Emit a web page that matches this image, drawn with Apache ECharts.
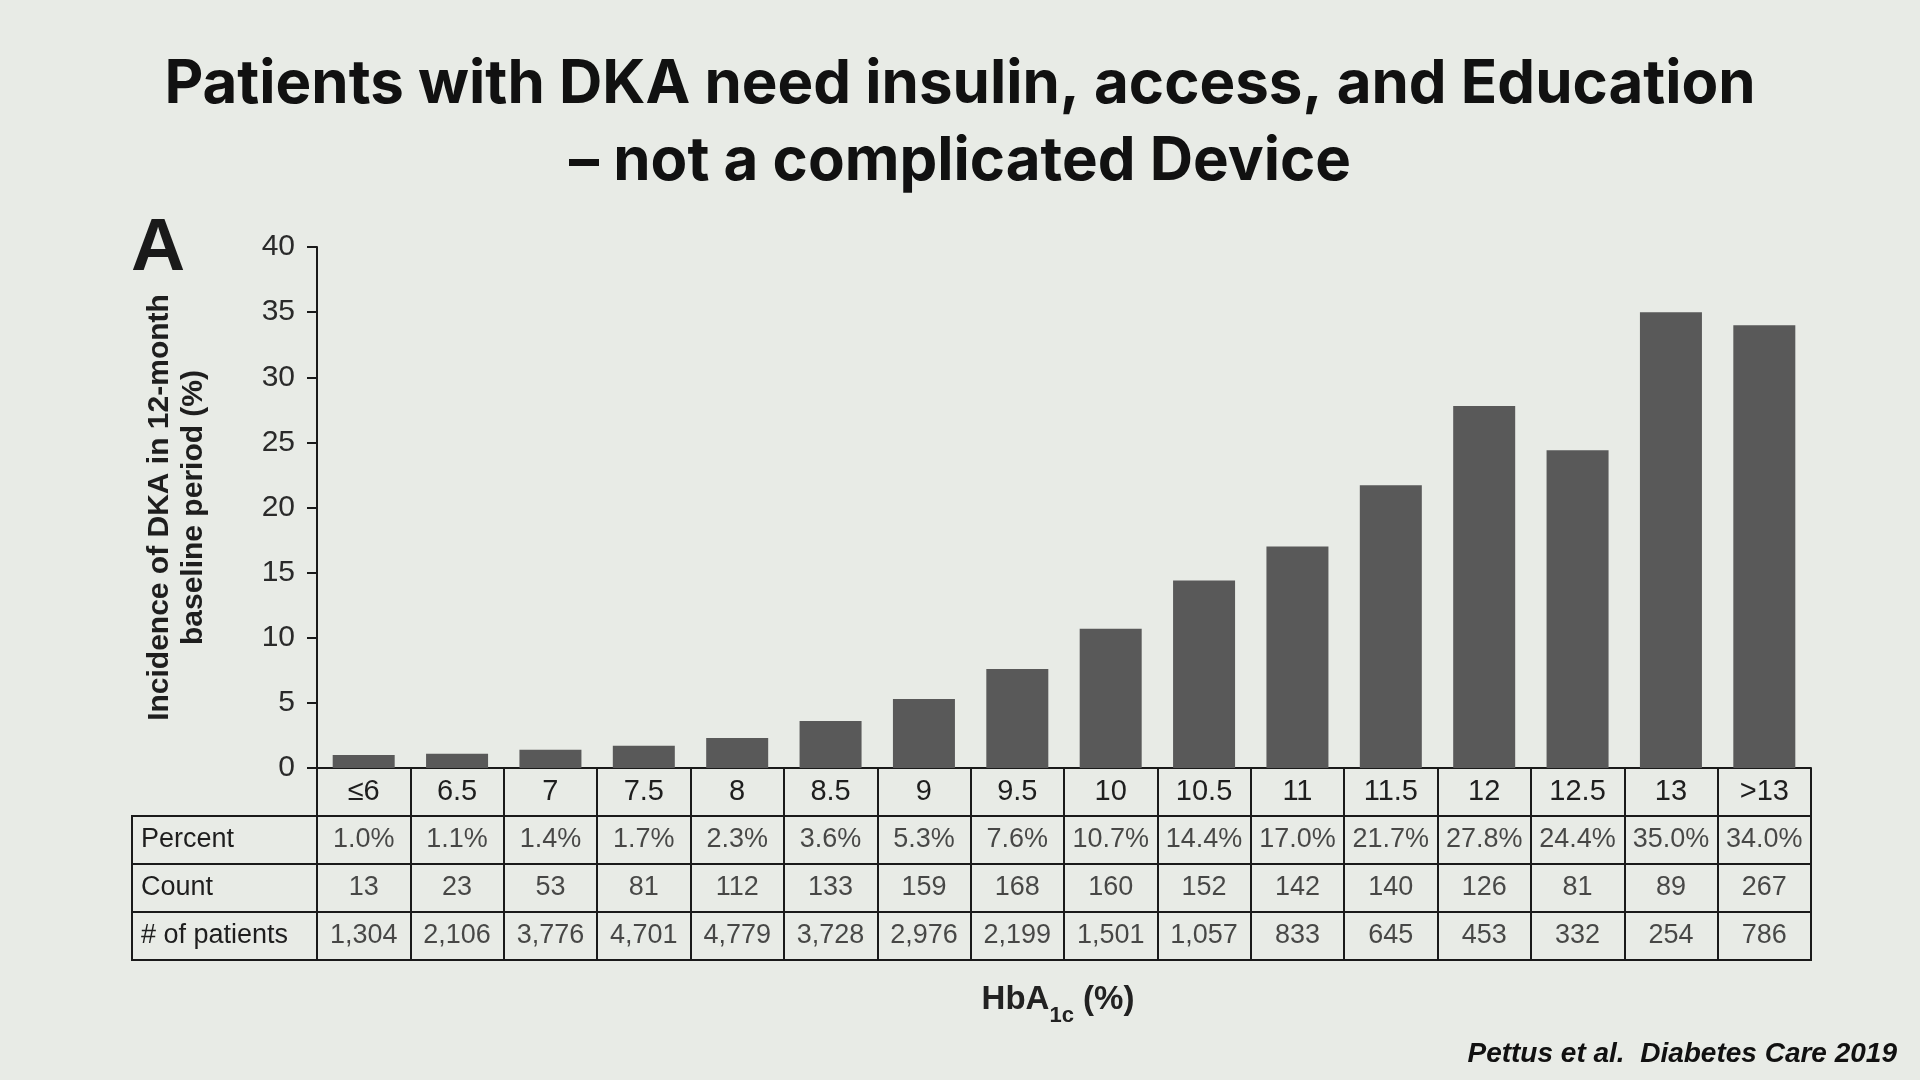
<!DOCTYPE html>
<html>
<head>
<meta charset="utf-8">
<title>DKA incidence by HbA1c</title>
<script src="https://cdn.jsdelivr.net/npm/echarts@6/dist/echarts.min.js"></script>
<style>
  html, body { margin: 0; padding: 0; background: #e8ebe6; }
  #chart { width: 1920px; height: 1080px; }
</style>
</head>
<body>
<div id="chart"></div>
<script>
// HbA1c bins and the values
const categories = ['≤6', '6.5', '7', '7.5', '8', '8.5', '9', '9.5', '10', '10.5', '11', '11.5', '12', '12.5', '13', '>13'];
const incidence = [1.0, 1.1, 1.4, 1.7, 2.3, 3.6, 5.3, 7.6, 10.7, 14.4, 17.0, 21.7, 27.8, 24.4, 35.0, 34.0];
const counts = [13, 23, 53, 81, 112, 133, 159, 168, 160, 152, 142, 140, 126, 81, 89, 267];
const patients = [1304, 2106, 3776, 4701, 4779, 3728, 2976, 2199, 1501, 1057, 833, 645, 453, 332, 254, 786];
const rowNames = ['Percent', 'Count', '# of patients'];
const yTicks = [0, 5, 10, 15, 20, 25, 30, 35, 40];

const LINE = '#1a1a1a';
const TEXT = '#1e1e1e';
const FONT = "'Liberation Sans', Arial, sans-serif";

// table cells: one entry per (column, row)
const rowTexts = [
  incidence.map(v => v.toFixed(1) + '%'),
  counts.map(v => String(v)),
  patients.map(v => v.toLocaleString('en-US'))
];
const cells = [];
rowNames.forEach((row, r) => {
  categories.forEach((c, i) => {
    cells.push([c, row, rowTexts[r][i]]);
  });
});

const chart = echarts.init(document.getElementById('chart'));

chart.setOption({
  backgroundColor: '#e8ebe6',
  textStyle: { fontFamily: FONT },
  title: {
    text: 'Patients with DKA need insulin, access, and Education\n– not a complicated Device',
    left: 'center',
    top: 41,
    textStyle: {
      fontFamily: 'Inter, "Open Sans", sans-serif',
      fontWeight: 'bold',
      fontSize: 60,
      lineHeight: 77,
      color: '#111'
    }
  },
  grid: [
    { left: 317, right: 109, top: 247, height: 521 },
    { left: 317, right: 109, top: 816, height: 144, show: true, borderColor: LINE, borderWidth: 2 },
    { left: 132, width: 185, top: 816, height: 144, show: true, borderColor: LINE, borderWidth: 2 }
  ],
  xAxis: [
    {
      gridIndex: 0,
      type: 'category',
      data: categories,
      axisLine: { lineStyle: { color: LINE, width: 2 } },
      axisTick: { show: true, length: 48, interval: 0, lineStyle: { color: LINE, width: 2 } },
      axisLabel: { interval: 0, margin: 9, fontSize: 29, color: TEXT, fontFamily: FONT }
    },
    {
      gridIndex: 1,
      type: 'category',
      data: categories,
      axisLine: { show: false },
      axisTick: { show: false },
      axisLabel: { show: false },
      splitLine: { show: true, interval: 0, lineStyle: { color: LINE, width: 2 } }
    },
    {
      gridIndex: 2,
      type: 'category',
      data: [''],
      axisLine: { show: false },
      axisTick: { show: false },
      axisLabel: { show: false }
    }
  ],
  yAxis: [
    {
      gridIndex: 0,
      type: 'value',
      min: yTicks[0],
      max: yTicks[yTicks.length - 1],
      interval: 5,
      name: 'Incidence of DKA in 12-month\nbaseline period (%)',
      nameLocation: 'middle',
      nameGap: 106,
      nameTextStyle: { fontSize: 30, fontWeight: 'bold', lineHeight: 34, color: TEXT, fontFamily: FONT },
      axisLine: { show: true, lineStyle: { color: LINE, width: 2 } },
      axisTick: { show: true, length: 10, lineStyle: { color: LINE, width: 2 } },
      axisLabel: { margin: 22, fontSize: 30, color: '#2a2a2a', fontFamily: FONT },
      splitLine: { show: false }
    },
    {
      gridIndex: 1,
      type: 'category',
      data: rowNames,
      inverse: true,
      axisLine: { show: false },
      axisTick: { show: false },
      axisLabel: { show: false },
      splitLine: { show: true, interval: 0, lineStyle: { color: LINE, width: 2 } }
    },
    {
      gridIndex: 2,
      type: 'category',
      data: rowNames,
      inverse: true,
      axisLine: { show: false },
      axisTick: { show: false },
      axisLabel: { inside: true, margin: 9, fontSize: 27, color: TEXT, fontFamily: FONT },
      splitLine: { show: true, interval: 0, lineStyle: { color: LINE, width: 2 } }
    }
  ],
  graphic: [
    {
      type: 'text',
      x: 158, y: 249,
      style: { text: 'A', font: 'bold 75px "Liberation Sans", Arial, sans-serif', fill: '#1a1a1a', align: 'center', verticalAlign: 'middle' }
    },
    {
      type: 'text',
      x: 1058, y: 1000,
      style: {
        text: '{a|HbA}{s|1c}{a| (%)}',
        align: 'center',
        verticalAlign: 'middle',
        rich: {
          a: { font: 'bold 33px "Liberation Sans", Arial, sans-serif', fill: '#222', lineHeight: 54, verticalAlign: 'middle' },
          s: { font: 'bold 22px "Liberation Sans", Arial, sans-serif', fill: '#222', lineHeight: 22, verticalAlign: 'bottom' }
        }
      }
    },
    {
      type: 'text',
      x: 1897, y: 1054,
      style: { text: 'Pettus et al.  Diabetes Care 2019', font: 'italic bold 28px "Liberation Sans", Arial, sans-serif', fill: '#111', align: 'right', verticalAlign: 'middle' }
    }
  ],
  series: [
    {
      type: 'bar',
      xAxisIndex: 0,
      yAxisIndex: 0,
      data: incidence,
      barWidth: 62,
      itemStyle: { color: '#595959' },
      silent: true
    },
    {
      type: 'scatter',
      xAxisIndex: 1,
      yAxisIndex: 1,
      data: cells,
      symbolSize: 2,
      itemStyle: { color: 'rgba(0,0,0,0)' },
      silent: true,
      label: {
        show: true,
        position: 'inside',
        formatter: p => p.value[2],
        fontSize: 27,
        color: TEXT,
        fontFamily: FONT
      },
      labelLayout: { hideOverlap: false }
    }
  ]
});
</script>
</body>
</html>
